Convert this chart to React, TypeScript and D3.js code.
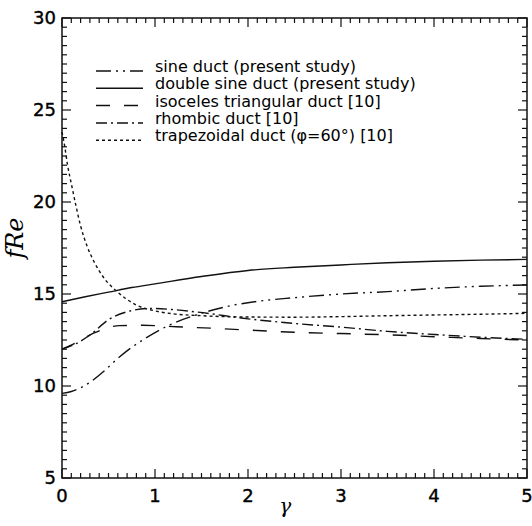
import { useRef, useEffect } from "react";
import * as d3 from "d3";

type Pt = [number, number];

// gamma, fRe
const sineDuct: Pt[] = [
  [0, 9.6], [0.1, 9.7], [0.2, 9.9], [0.3, 10.2], [0.45, 10.8], [0.6, 11.5], [0.75, 12.1],
  [0.9, 12.6], [1.15, 13.3], [1.5, 13.95], [1.85, 14.4], [2.1, 14.6], [2.5, 14.8],
  [3, 15.0], [3.5, 15.13], [4, 15.3], [4.5, 15.42], [5, 15.49],
];
const doubleSine: Pt[] = [
  [0, 14.58], [0.25, 14.85], [0.5, 15.1], [0.75, 15.35], [1, 15.55], [1.5, 15.95],
  [2, 16.28], [2.5, 16.45], [3, 16.58], [3.5, 16.7], [4, 16.78], [4.5, 16.84], [5, 16.88],
];
const isoscelesTri: Pt[] = [
  [0, 12.0], [0.15, 12.35], [0.34, 12.87], [0.62, 13.28], [0.87, 13.3], [1.23, 13.22],
  [1.66, 13.13], [2, 13.04], [2.5, 12.92], [3, 12.85], [3.5, 12.78], [4, 12.68], [4.5, 12.58], [5, 12.5],
];
const rhombic: Pt[] = [
  [0, 12.0], [0.15, 12.3], [0.3, 12.77], [0.5, 13.6], [0.75, 14.1], [0.95, 14.22], [1.2, 14.15],
  [1.45, 14.02], [2, 13.65], [2.5, 13.4], [3, 13.2], [3.5, 12.97], [4, 12.8], [4.5, 12.65], [5, 12.54],
];
const trapezoidal: Pt[] = [
  [0, 23.8], [0.03, 23.0], [0.06, 22.0], [0.1, 21.0], [0.15, 19.8], [0.2, 18.7], [0.27, 17.6],
  [0.35, 16.7], [0.44, 15.95], [0.6, 15.1], [0.8, 14.4], [1, 14.08], [1.2, 13.92], [1.5, 13.82],
  [2, 13.75], [2.5, 13.74], [3, 13.77], [3.5, 13.82], [4, 13.86], [4.5, 13.9], [5, 13.95],
];

const legendLabels = [
  "sine duct (present study)",
  "double sine duct (present study)",
  "isoceles triangular duct [10]",
  "rhombic duct [10]",
  "trapezoidal duct (φ=60°) [10]",
];
const xTicks = [0, 1, 2, 3, 4, 5];
const yTicks = [5, 10, 15, 20, 25, 30];

const dashes = ["15,5,2,5,2,5", "", "14,14", "11,4,2,4", "3,3"];

export default function App() {
  const ref = useRef<SVGSVGElement | null>(null);

  useEffect(() => {
    if (!ref.current) return;
    const svg = d3.select(ref.current);
    svg.selectAll("*").remove();

    const left = 62, right = 527, top = 18, bottom = 478;
    const x = d3.scaleLinear().domain([0, 5]).range([left, right]);
    const y = d3.scaleLinear().domain([5, 30]).range([bottom, top]);
    const font = "'DejaVu Sans', sans-serif";

    // curves
    const line = d3.line<Pt>().x(d => x(d[0])).y(d => y(d[1])).curve(d3.curveMonotoneX);
    const series = [sineDuct, doubleSine, isoscelesTri, rhombic, trapezoidal];
    series.forEach((s, i) => {
      svg.append("path")
        .datum(s)
        .attr("fill", "none")
        .attr("stroke", "#111")
        .attr("stroke-width", 1.4)
        .attr("stroke-dasharray", dashes[i] || null)
        .attr("d", line as any);
    });

    // frame
    svg.append("rect")
      .attr("x", left).attr("y", top)
      .attr("width", right - left).attr("height", bottom - top)
      .attr("fill", "none").attr("stroke", "#111").attr("stroke-width", 1.5);

    // ticks (inward on all four sides)
    const tk = svg.append("g").attr("stroke", "#111").attr("stroke-width", 1.2);
    d3.range(0, 5.001, 0.1).forEach(v => {
      const major = Math.abs(v - Math.round(v)) < 1e-6;
      const len = major ? 9 : 5;
      tk.append("line").attr("x1", x(v)).attr("x2", x(v)).attr("y1", bottom).attr("y2", bottom - len);
      tk.append("line").attr("x1", x(v)).attr("x2", x(v)).attr("y1", top).attr("y2", top + len);
    });
    d3.range(5, 30.001, 0.5).forEach(v => {
      const major = Math.abs(v / 5 - Math.round(v / 5)) < 1e-6;
      const len = major ? 9 : 5;
      tk.append("line").attr("y1", y(v)).attr("y2", y(v)).attr("x1", left).attr("x2", left + len);
      tk.append("line").attr("y1", y(v)).attr("y2", y(v)).attr("x1", right).attr("x2", right - len);
    });

    // tick labels
    svg.append("g").selectAll("text").data(xTicks).join("text")
      .attr("x", d => x(d)).attr("y", 502)
      .attr("text-anchor", "middle")
      .attr("font-family", font).attr("font-size", 18)
      .attr("stroke", "#000").attr("stroke-width", 0.4)
      .text(d => d);
    svg.append("g").selectAll("text").data(yTicks).join("text")
      .attr("x", 56).attr("y", d => y(d)).attr("dy", "0.36em")
      .attr("text-anchor", "end")
      .attr("font-family", font).attr("font-size", 18)
      .attr("stroke", "#000").attr("stroke-width", 0.4)
      .text(d => d);

    // axis titles
    svg.append("text")
      .attr("transform", `translate(23,238) rotate(-90)`)
      .attr("text-anchor", "middle")
      .attr("font-family", "'DejaVu Serif', serif").attr("font-style", "italic").attr("font-size", 24)
      .text("fRe");
    svg.append("text")
      .attr("x", x(2.4)).attr("y", 513)
      .attr("text-anchor", "middle")
      .attr("font-family", "'DejaVu Serif', serif").attr("font-style", "italic").attr("font-size", 20)
      .text("γ");

    // legend
    const lg = svg.append("g");
    legendLabels.forEach((lab, i) => {
      const ly = 71 + i * 17.3;
      lg.append("line")
        .attr("x1", 96).attr("x2", 143).attr("y1", ly).attr("y2", ly)
        .attr("stroke", "#111").attr("stroke-width", 1.5)
        .attr("stroke-dasharray", dashes[i] || null);
      lg.append("text")
        .attr("x", 155).attr("y", ly + 1)
        .attr("font-family", font).attr("font-size", 16)
        .text(lab);
    });
  }, []);

  return (
    <svg ref={ref} width={532} height={526}
      style={{ position: "absolute", left: 0, top: 0, background: "#fff" }} />
  );
}
